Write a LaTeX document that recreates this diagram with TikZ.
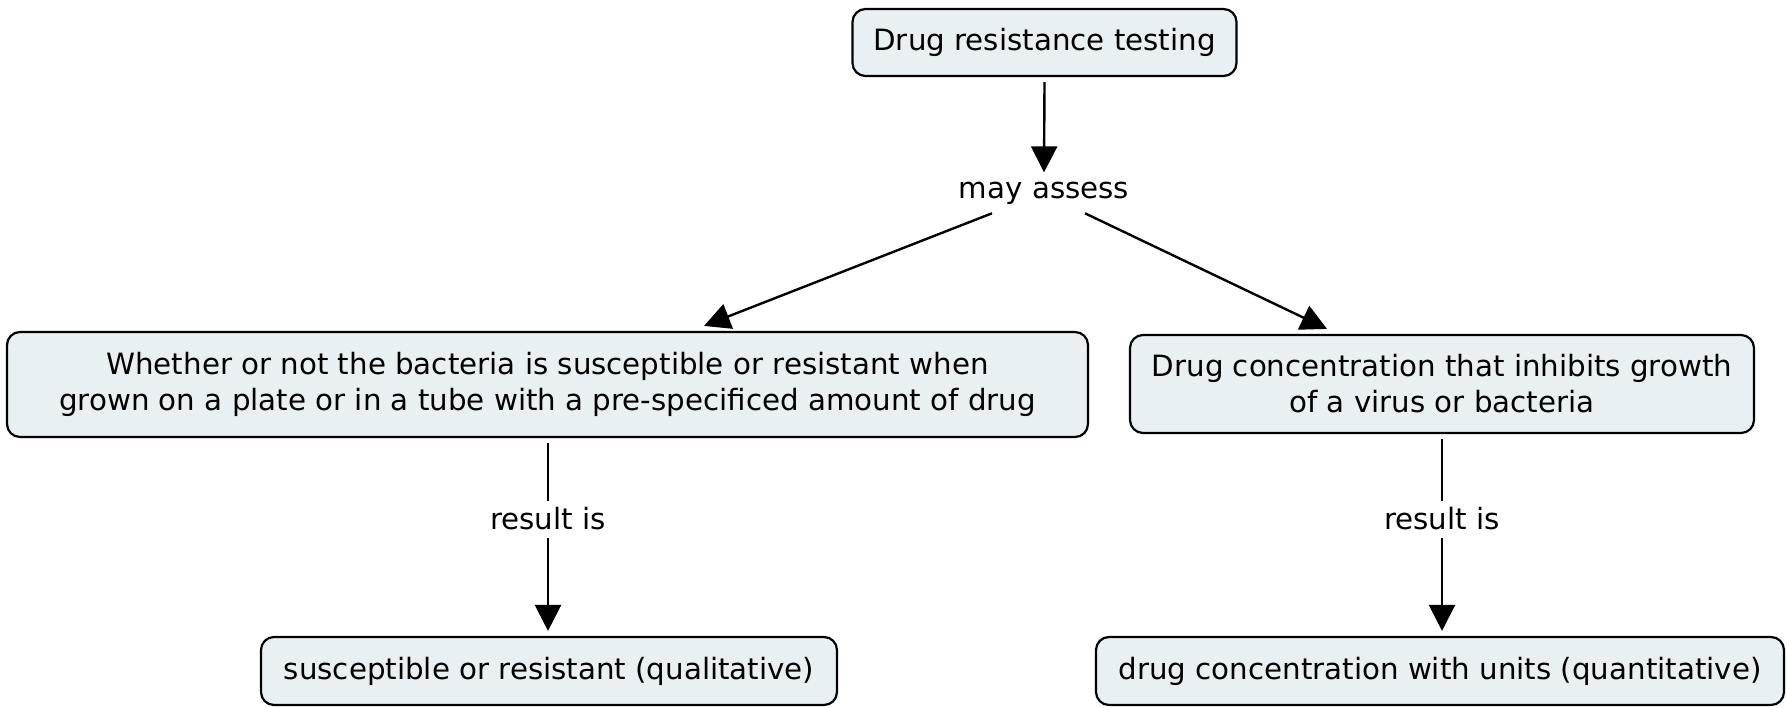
\documentclass[tikz,border=0pt]{standalone}
\usepackage{fontspec}
\setmainfont{DejaVu Sans}
\usetikzlibrary{arrows.meta}
\definecolor{boxfill}{HTML}{E9F0F3}
\tikzset{
  concept/.style={draw=black, line width=2.2pt, fill=boxfill, rounded corners=13pt,
    inner sep=0pt, align=center, font=\fontsize{29.3}{36}\selectfont},
  linklabel/.style={inner sep=0pt, anchor=base, font=\fontsize{29.3}{36}\selectfont},
  arr/.style={line width=2.4pt, -{Triangle[width=26pt,length=26pt]}},
  plain/.style={line width=2.4pt}
}
\begin{document}
\begin{tikzpicture}[x=1pt,y=-1pt]
\useasboundingbox (0,0) rectangle (1787,707);
\node[concept, minimum width=384pt, minimum height=67pt] (top) at (1044.5,42.5) {Drug resistance testing};
\node[linklabel] (may) at (1044,198) {may assess};
\node[concept, minimum width=1081pt, minimum height=105pt] (left) at (547.5,384.5)
  {Whether or not the bacteria is susceptible or resistant when\\grown on a plate or in a tube with a pre-specificed amount of drug};
\node[concept, minimum width=624pt, minimum height=98pt] (right) at (1442,384)
  {Drug concentration that inhibits growth\\of a virus or bacteria};
\node[linklabel] (resL) at (548,529) {result is};
\node[linklabel] (resR) at (1442,529) {result is};
\node[concept, minimum width=576pt, minimum height=68pt] (botL) at (549,671) {susceptible or resistant (qualitative)};
\node[concept, minimum width=688pt, minimum height=68pt] (botR) at (1440,671) {drug concentration with units (quantitative)};

\draw[arr] ([yshift=-5pt]top.south) -- ([yshift=9pt]may.north);
\draw[arr] ([shift={(-52,9)}]may.south) -- ([shift={(156.5,-5)}]left.north);
\draw[arr] ([shift={(41,9)}]may.south) -- ([shift={(-115,-5)}]right.north);

\draw[plain] ([yshift=-5pt]left.south -| resL) -- ([yshift=6pt]resL.north);
\draw[arr] ([yshift=-8pt]resL.south) -- ([yshift=5pt]botL.north -| resL);
\draw[plain] ([yshift=-5pt]right.south -| resR) -- ([yshift=6pt]resR.north);
\draw[arr] ([yshift=-8pt]resR.south) -- ([yshift=5pt]botR.north -| resR);
\end{tikzpicture}
\end{document}
